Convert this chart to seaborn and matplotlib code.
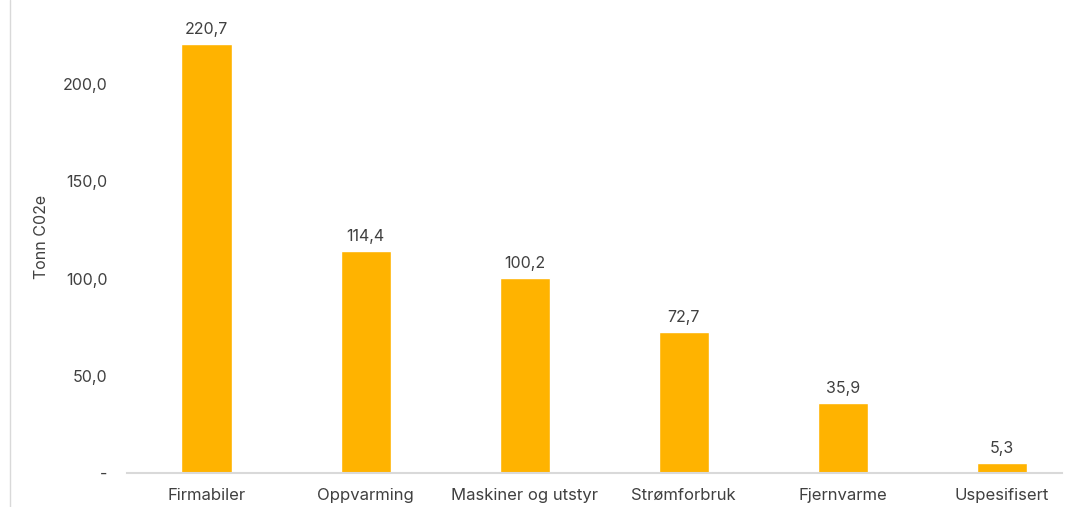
import matplotlib
matplotlib.use("Agg")
import matplotlib.pyplot as plt
import seaborn as sns
import pandas as pd
from matplotlib.lines import Line2D

categories = ["Firmabiler", "Oppvarming", "Maskiner og utstyr", "Strømforbruk", "Fjernvarme", "Uspesifisert"]
values = [220.7, 114.4, 100.2, 72.7, 35.9, 5.3]
yticks = [0, 50, 100, 150, 200]
ytick_labels = ["-", "50,0", "100,0", "150,0", "200,0"]

sns.set_theme(style="white")
plt.rcParams['font.family'] = ['Inter', 'DejaVu Sans']

W, H = 1072, 507
fig = plt.figure(figsize=(W/100, H/100), dpi=100)
ax = fig.add_axes([127/W, (H-473)/H, (1062-127)/W, 473/H])

df = pd.DataFrame({"cat": categories, "val": values})
sns.barplot(data=df, x="cat", y="val", color="#FFB300", width=0.315, saturation=1, ax=ax)

text_color = "#404040"
for i, v in enumerate(values):
    ax.annotate(f"{v:.1f}".replace(".", ","), (i, v), xytext=(0, 5), textcoords="offset points",
                ha="center", va="bottom", fontsize=11.5, color=text_color)

ax.set_ylim(0, 243.2)
ax.set_xlim(-0.5, 5 + (1062-1002)/159)
ax.set_yticks(yticks)
ax.set_yticklabels(ytick_labels, fontsize=11.5, color=text_color)
ax.tick_params(axis='y', length=0, pad=14)
ax.tick_params(axis='x', length=0, pad=11, labelsize=12, labelcolor=text_color)
ax.set_xlabel("")
ax.set_ylabel("Tonn C02e", fontsize=11.5, color=text_color)
ax.yaxis.set_label_coords(-(127-49)/(1062-127), 0.5)
for s in ["top", "right", "left"]:
    ax.spines[s].set_visible(False)
ax.spines["bottom"].set_color("#D9D9D9")
ax.spines["bottom"].set_linewidth(1.5)

fig.add_artist(Line2D([10/W, 10/W], [0, 1], color="#D9D9D9", lw=1, transform=fig.transFigure))

fig.savefig("out.png", dpi=100)
